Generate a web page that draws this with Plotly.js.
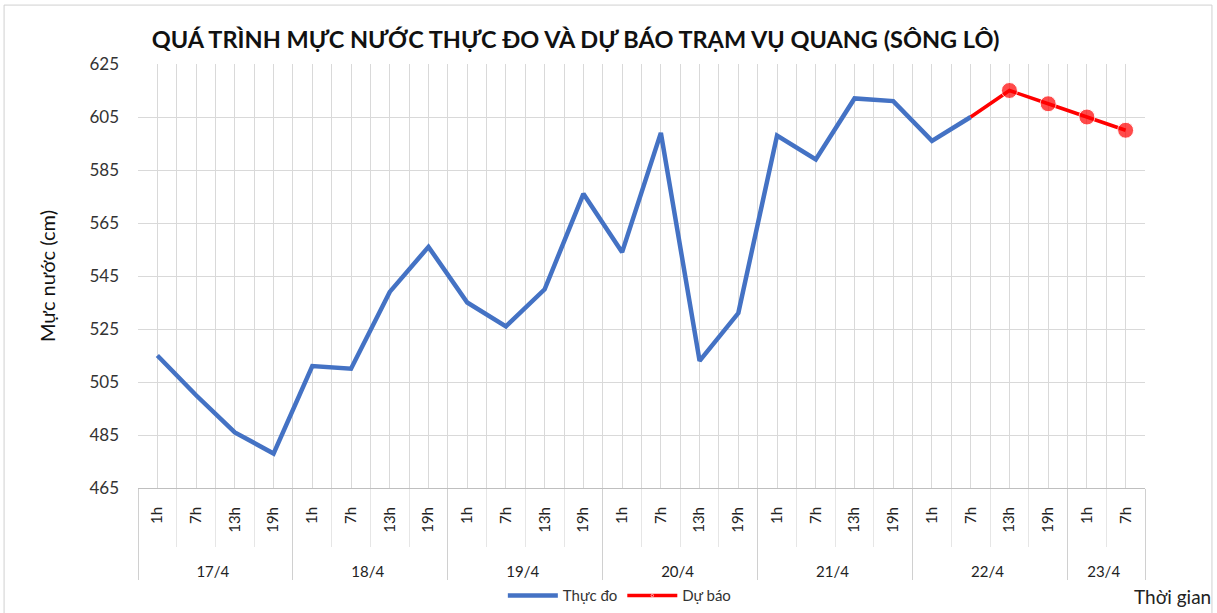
<!DOCTYPE html>
<html>
<head>
<meta charset="utf-8">
<script src="https://cdn.plot.ly/plotly-3.0.1.min.js"></script>
<style>
html,body{margin:0;padding:0;background:#fff;}
#chart{width:1217px;height:613px;}
</style>
</head>
<body>
<div id="chart"></div>
<script>
const days = ["17/4","17/4","17/4","17/4","18/4","18/4","18/4","18/4","19/4","19/4","19/4","19/4","20/4","20/4","20/4","20/4","21/4","21/4","21/4","21/4","22/4","22/4","22/4","22/4","23/4","23/4"];
const hours = ["1h","7h","13h","19h","1h","7h","13h","19h","1h","7h","13h","19h","1h","7h","13h","19h","1h","7h","13h","19h","1h","7h","13h","19h","1h","7h"];
const observed = [515,500,486,478, 511,510,539,556, 535,526,540,576, 554,599,513,531, 598,589,612,611, 596,605,null,null,null,null];
const forecast = [null,null,null,null, null,null,null,null, null,null,null,null, null,null,null,null, null,null,null,null, null,605,615,610,605,600];
const idx = hours.map((h,i)=>i);
// padded hour labels (non-breaking spaces only push the day row down)
const hourLabels = hours.map(h => "\u00a0\u00a0\u00a0\u00a0\u00a0\u00a0\u00a0" + h);

const FONT = "Lato, 'Open Sans', sans-serif";

const traces = [
  {
    x: [days, hourLabels], y: observed, name: "Thực đo", type: "scatter", mode: "lines",
    line: {color: "#4472C4", width: 4.5}, connectgaps: false
  },
  {
    x: [days, hourLabels], y: forecast, name: "Dự báo", type: "scatter", mode: "lines+markers",
    line: {color: "#FF0000", width: 3.5},
    marker: {color: "#FF0000", size: forecast.map((v,i)=> (v!==null && i>21) ? 16 : 0)}
  },
  {
    x: idx, y: idx.map(()=>null), xaxis: "x2", showlegend: false, hoverinfo: "skip", type: "scatter"
  }
];

const layout = {
  width: 1217, height: 613,
  margin: {l: 138, r: 72, t: 64, b: 125},
  paper_bgcolor: "#fff", plot_bgcolor: "#fff",
  font: {family: FONT, color: "#333"},
  title: {
    text: "<b>QUÁ TRÌNH MỰC NƯỚC THỰC ĐO VÀ DỰ BÁO TRẠM VỤ QUANG (SÔNG LÔ)</b>",
    font: {family: FONT, size: 23.5, color: "#111"},
    x: 0.473, xanchor: "center", y: 0.935, yanchor: "middle"
  },
  xaxis: {
    type: "multicategory", range: [-0.5, 25.5], automargin: false,
    showgrid: true, gridcolor: "#d9d9d9", gridwidth: 1,
    tickangle: -90, ticklabelstandoff: 12,
    tickfont: {family: FONT, size: 15, color: "#222"},
    showline: true, linecolor: "#bfbfbf", linewidth: 1,
    ticks: "outside", ticklen: 58, tickcolor: "#e6e6e6",
    showdividers: true, dividercolor: "#d0d0d0", dividerwidth: 1,
    fixedrange: true, zeroline: false
  },
  xaxis2: {
    overlaying: "x", range: [-0.5, 25.5], tick0: 0, dtick: 1,
    showgrid: true, gridcolor: "#d9d9d9", gridwidth: 1,
    showticklabels: false, ticks: "", zeroline: false, showline: false
  },
  yaxis: {
    range: [465, 625], tick0: 465, dtick: 20, automargin: false,
    showgrid: true, gridcolor: "#d9d9d9", gridwidth: 1,
    tickfont: {family: FONT, size: 17, color: "#333"},
    ticks: "", ticklabelstandoff: 18, zeroline: false, showline: false,
    title: {text: "Mực nước (cm)", font: {family: FONT, size: 20, color: "#111"}, standoff: 28}
  },
  legend: {
    orientation: "h", xref: "paper", x: 0.478, xanchor: "center",
    yref: "container", y: 0.028, yanchor: "middle",
    font: {family: FONT, size: 15, color: "#333"}, itemwidth: 50, bgcolor: "rgba(0,0,0,0)"
  },
  annotations: [
    {text: "Thời gian", xref: "paper", yref: "paper", x: 1.068, y: -0.257, xanchor: "right", yanchor: "middle",
     showarrow: false, font: {family: FONT, size: 19, color: "#222"}}
  ],
  shapes: [
    {type: "rect", xref: "paper", yref: "paper", x0: -0.133, x1: 1.0665, y0: -0.311, y1: 1.139,
     line: {color: "#d0d0d0", width: 1}, fillcolor: "rgba(0,0,0,0)", layer: "below"}
  ],
  showlegend: true
};

Plotly.newPlot("chart", traces, layout, {displayModeBar: false, staticPlot: true});
</script>
</body>
</html>
